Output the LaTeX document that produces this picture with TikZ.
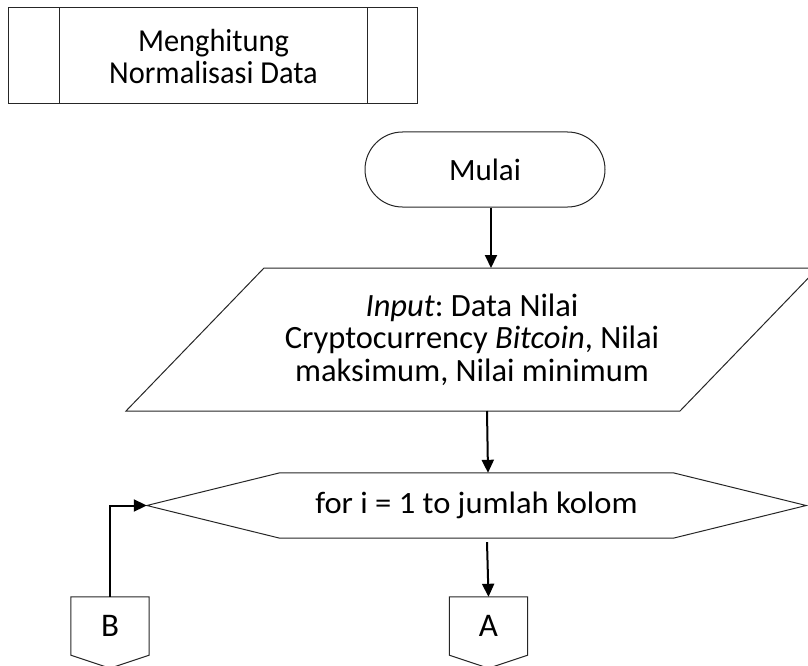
\documentclass[tikz,border=0pt]{standalone}
\usepackage{fontspec}
\setmainfont{Carlito}
\newfontfamily\headfont[FakeStretch=0.95]{Carlito}
\newfontfamily\loopfont[FakeStretch=1.05]{Carlito}
\usetikzlibrary{arrows.meta,shapes.misc}
\frenchspacing
\begin{document}
\begin{tikzpicture}[x=1pt,y=-1pt,
  outline/.style={draw=black!85, line width=1pt},
  flow/.style={draw=black, line width=2pt, -{Triangle[width=12pt,length=13pt]}},
  txt/.style={font=\fontsize{31}{32.5}\selectfont, align=center, inner sep=0pt},
  pagelink/.style={txt, font=\fontsize{33}{34}\selectfont, minimum width=78pt, minimum height=56pt},
]
\useasboundingbox (0,0) rectangle (808,666);
\clip (0,0) rectangle (808,666);

% predefined process header
\node[outline, minimum width=409pt, minimum height=96pt, inner sep=0pt] (proc) at (212.5,56) {};
\node[txt, font=\headfont\fontsize{32}{32}\selectfont] (proctext) at (213.5,57) {Menghitung\\Normalisasi Data};
\draw[outline] ([xshift=52pt]proc.north west) -- ([xshift=52pt]proc.south west);
\draw[outline] ([xshift=-50pt]proc.north east) -- ([xshift=-50pt]proc.south east);

% terminal
\node[outline, txt, rounded rectangle, minimum width=240pt, minimum height=75pt] (start) at (485,169.5) {Mulai};

% input / output parallelogram
\draw[outline] (126,411) -- (680,411) -- (818,268) -- (264,268) -- cycle;
\coordinate (io-n) at (491,268);
\coordinate (io-s) at (487,411);
\node[txt, font=\fontsize{32.5}{32.5}\selectfont] (io) at (472,339.5) {\textit{Input}: Data Nilai\\Cryptocurrency \textit{Bitcoin}, Nilai\\maksimum, Nilai minimum};

% loop hexagon
\node[txt, font=\loopfont\fontsize{31}{32}\selectfont, minimum width=393pt, minimum height=65pt] (loop) at (476.5,505.5) {for i = 1 to jumlah kolom};
\draw[outline] (loop.north west) -- (loop.north east) -- ([xshift=133pt]loop.east)
  -- (loop.south east) -- (loop.south west) -- ([xshift=-133pt]loop.west) coordinate (loop-w) -- cycle;
\coordinate (loop-n) at ([xshift=11.5pt]loop.north);
\coordinate (loop-s) at ([xshift=10.5pt]loop.south);

% off-page connectors
\node[pagelink] (A) at (488.5,626) {A};
\node[pagelink] (B) at (110,626) {B};
\foreach \n in {A,B}
  \draw[outline] ([yshift=1pt]\n.north west) -- ([yshift=1pt]\n.north east) -- ([yshift=-1pt]\n.south east)
    -- ([yshift=-14pt]\n.south) -- ([yshift=-1pt]\n.south west) -- cycle;

% flow lines
\draw[flow] (start.south -| io-n) -- (io-n);
\draw[flow] (io-s) -- (loop-n);
\draw[flow] ([yshift=-4pt]loop-s) -- ([yshift=1pt]A.north);
\draw[flow] ([yshift=1pt]B.north) |- (loop-w);
\end{tikzpicture}
\end{document}
